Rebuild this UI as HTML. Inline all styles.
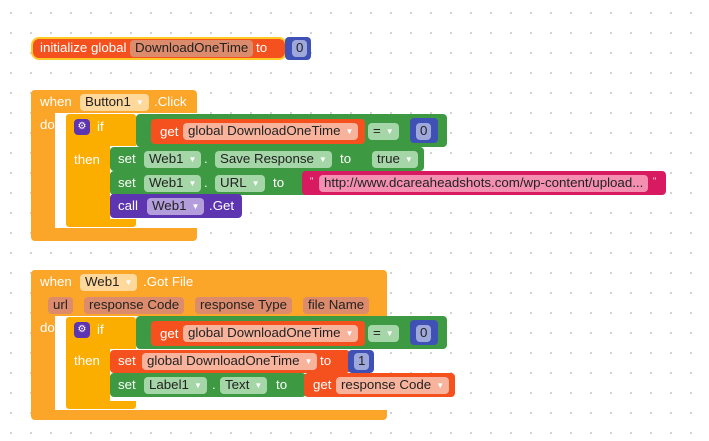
<!DOCTYPE html>
<html><head><meta charset="utf-8"><style>
*{box-sizing:border-box;margin:0;padding:0}
body{width:709px;height:441px;overflow:hidden;background:#fff;position:relative;font-family:"Liberation Sans",sans-serif;font-size:13.3px;
background-image:radial-gradient(circle,#cfcfcf 1px,transparent 1.3px);background-size:20px 20px;background-position:1px 3px}
.b{position:absolute;border-radius:4px}
.t{position:absolute;color:#fff;white-space:nowrap;line-height:16px}
.c{position:absolute;border-radius:4px;color:#222;white-space:nowrap;line-height:16px;padding:0 5px;height:17px}
.ar{font-size:8px;color:#fff;margin-left:5px;vertical-align:1px}
.ev{background:#FBA628}
.if{background:#FBAD00}
.gr{background:#3E9A42}
.rd{background:#F4511E}
.bl{background:#3F51B5}
.pk{background:#D81B60}
.pu{background:#5E35B1}
.gc{background:#A5D6A7}
.rc{background:#F8B39C}
.bc{background:#9FA8DA}
.pc{background:#B39DDB}
.kc{background:#F48FB1}
.oc{background:#FFD89C}
.mc{background:#DC8C6C}
</style></head><body>

<div class="b rd" style="left:31px;top:37px;width:256px;height:23px;border:2px solid #FFC928;border-radius:8px"></div>
<div class="t" style="left:40px;top:40px">initialize global</div>
<div class="c mc" style="left:130px;top:40px">DownloadOneTime</div>
<div class="t" style="left:256px;top:40px">to</div>
<div class="b bl" style="left:285px;top:37px;width:26px;height:23px"></div>
<div class="c bc" style="left:292px;top:40px;padding:0 4px">0</div>

<div class="b ev" style="left:31px;top:90px;width:166px;height:151px"></div>
<div class="b" style="left:55px;top:113px;width:142px;height:115px;background:#fff;border-radius:0"></div>
<div class="t" style="left:40px;top:94px">when</div>
<div class="c oc" style="left:80px;top:94px">Button1<span class="ar">▼</span></div>
<div class="t" style="left:154px;top:94px">.Click</div>
<div class="t" style="left:40px;top:117px">do</div>
<div class="b if" style="left:65px;top:113px;width:72px;height:115px;border:1px solid #fff"></div>
<div class="b" style="left:110px;top:146px;width:27px;height:73px;background:#fff;border-radius:0"></div>
<div class="b pu" style="left:74px;top:119px;width:16px;height:16px;font-size:10px;color:#fff;text-align:center;line-height:16px">⚙</div>
<div class="t" style="left:97px;top:119px">if</div>
<div class="t" style="left:74px;top:152px">then</div>
<div class="b gr" style="left:136px;top:114px;width:311px;height:33px"></div>
<div class="b rd" style="left:151px;top:119px;width:214px;height:25px"></div>
<div class="t" style="left:160px;top:124px">get</div>
<div class="c rc" style="left:183px;top:123px">global DownloadOneTime<span class="ar">▼</span></div>
<div class="c gc" style="left:368px;top:123px">=<span class="ar">▼</span></div>
<div class="b bl" style="left:410px;top:118px;width:28px;height:25px"></div>
<div class="c bc" style="left:416px;top:123px;padding:0 4px">0</div>

<div class="b gr" style="left:110px;top:147px;width:314px;height:24px"></div>
<div class="t" style="left:118px;top:151px">set</div>
<div class="c gc" style="left:144px;top:151px">Web1<span class="ar">▼</span></div>
<div class="t" style="left:204px;top:151px">.</div>
<div class="c gc" style="left:215px;top:151px">Save Response<span class="ar">▼</span></div>
<div class="t" style="left:340px;top:151px">to</div>
<div class="c gc" style="left:372px;top:151px">true<span class="ar">▼</span></div>

<div class="b gr" style="left:110px;top:171px;width:200px;height:24px"></div>
<div class="t" style="left:118px;top:175px">set</div>
<div class="c gc" style="left:144px;top:175px">Web1<span class="ar">▼</span></div>
<div class="t" style="left:204px;top:175px">.</div>
<div class="c gc" style="left:215px;top:175px">URL<span class="ar">▼</span></div>
<div class="t" style="left:273px;top:175px">to</div>
<div class="b pk" style="left:302px;top:171px;width:364px;height:24px"></div>
<div class="t" style="left:310px;top:173px;font-size:9px">"</div>
<div class="c kc" style="left:319px;top:175px">http://www.dcareaheadshots.com/wp-content/upload...</div>
<div class="t" style="left:653px;top:173px;font-size:9px">"</div>

<div class="b pu" style="left:110px;top:194px;width:132px;height:24px"></div>
<div class="t" style="left:118px;top:198px">call</div>
<div class="c pc" style="left:147px;top:198px">Web1<span class="ar">▼</span></div>
<div class="t" style="left:209px;top:198px">.Get</div>

<div class="b ev" style="left:31px;top:270px;width:356px;height:150px"></div>
<div class="b" style="left:55px;top:316px;width:332px;height:94px;background:#fff;border-radius:0"></div>
<div class="t" style="left:40px;top:274px">when</div>
<div class="c oc" style="left:80px;top:274px">Web1<span class="ar">▼</span></div>
<div class="t" style="left:143px;top:274px">.Got File</div>
<div class="c mc" style="left:48px;top:297px">url</div>
<div class="c mc" style="left:84px;top:297px">response Code</div>
<div class="c mc" style="left:195px;top:297px">response Type</div>
<div class="c mc" style="left:303px;top:297px">file Name</div>
<div class="t" style="left:40px;top:320px">do</div>
<div class="b if" style="left:65px;top:316px;width:72px;height:94px;border:1px solid #fff"></div>
<div class="b" style="left:110px;top:349px;width:27px;height:52px;background:#fff;border-radius:0"></div>
<div class="b pu" style="left:74px;top:322px;width:16px;height:16px;font-size:10px;color:#fff;text-align:center;line-height:16px">⚙</div>
<div class="t" style="left:97px;top:322px">if</div>
<div class="t" style="left:74px;top:353px">then</div>
<div class="b gr" style="left:136px;top:316px;width:311px;height:33px"></div>
<div class="b rd" style="left:151px;top:321px;width:214px;height:25px"></div>
<div class="t" style="left:160px;top:326px">get</div>
<div class="c rc" style="left:183px;top:325px">global DownloadOneTime<span class="ar">▼</span></div>
<div class="c gc" style="left:368px;top:325px">=<span class="ar">▼</span></div>
<div class="b bl" style="left:410px;top:320px;width:28px;height:25px"></div>
<div class="c bc" style="left:416px;top:325px;padding:0 4px">0</div>

<div class="b rd" style="left:110px;top:350px;width:240px;height:23px"></div>
<div class="t" style="left:118px;top:353px">set</div>
<div class="c rc" style="left:142px;top:353px">global DownloadOneTime<span class="ar">▼</span></div>
<div class="t" style="left:320px;top:353px">to</div>
<div class="b bl" style="left:348px;top:350px;width:26px;height:23px"></div>
<div class="c bc" style="left:354px;top:353px;padding:0 4px">1</div>

<div class="b gr" style="left:110px;top:373px;width:196px;height:24px"></div>
<div class="t" style="left:118px;top:377px">set</div>
<div class="c gc" style="left:144px;top:377px">Label1<span class="ar">▼</span></div>
<div class="t" style="left:212px;top:377px">.</div>
<div class="c gc" style="left:220px;top:377px">Text<span class="ar">▼</span></div>
<div class="t" style="left:276px;top:377px">to</div>
<div class="b rd" style="left:304px;top:373px;width:151px;height:24px"></div>
<div class="t" style="left:313px;top:377px">get</div>
<div class="c rc" style="left:336px;top:377px">response Code<span class="ar">▼</span></div>
</body></html>
